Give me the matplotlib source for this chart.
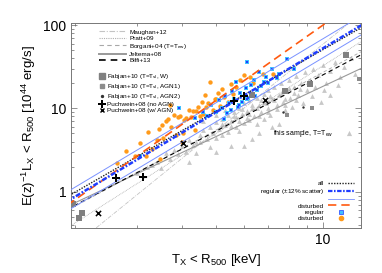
import numpy as np
import matplotlib
matplotlib.use("Agg")
import matplotlib.pyplot as plt
from matplotlib.lines import Line2D

plt.rcParams['font.family'] = ['Liberation Sans', 'DejaVu Sans']
plt.rcParams['mathtext.fontset'] = 'custom'
plt.rcParams['mathtext.rm'] = 'Liberation Sans'
plt.rcParams['mathtext.it'] = 'Liberation Sans'
plt.rcParams['mathtext.default'] = 'regular'

# ---- fit relations: L = norm * (T/5)^slope
fit_all = (9.3, 2.45)
fit_regular = (9.0, 2.55)
scatter_fac = 1.3
fit_disturbed = (12.5, 3.0)
fit_biffi = (5.35, 2.24)
fit_jeltema = (4.6, 2.0)
fit_maughan = (5.4, 3.45)
fit_pratt = (5.0, 2.7)
fit_borgani = (5.5, 2.3)

# ---- simulated clusters
dist_T = [2.63, 2.78, 3.05, 3.22, 3.30, 3.45, 3.51, 3.62, 3.66, 3.70, 3.72, 3.81, 3.90,
          3.95, 4.03, 4.05, 4.12, 4.20, 4.26, 4.30, 4.40, 4.45, 4.49, 4.55, 4.59, 4.65,
          4.69, 4.75, 4.80, 4.90, 4.95, 5.01, 5.05, 5.12, 5.20, 5.25, 5.40, 5.50, 5.57,
          5.70, 5.82, 6.01, 6.21, 6.35, 6.78, 7.23, 3.40, 3.85, 4.35, 2.95, 3.55, 4.00,
          3.47, 3.18]
dist_L = [2.2, 3.1, 3.8, 5.2, 3.3, 5.6, 6.3, 7.0, 7.5, 11.0, 6.0, 8.3, 7.8,
          8.1, 5.0, 7.2, 7.6, 9.5, 7.9, 9.2, 9.3, 10.5, 8.0, 12.0, 8.6, 14.5,
          10.3, 11.5, 21.0, 9.7, 13.0, 12.8, 15.5, 10.8, 17.0, 13.8, 12.0, 19.5, 15.0,
          18.0, 22.0, 25.0, 24.0, 20.0, 26.0, 26.0, 4.2, 4.8, 5.5, 2.7, 4.4, 4.0,
          2.46, 2.7]

reg_T = [3.05, 3.94, 4.35, 4.70, 4.85, 5.00, 5.10, 5.20, 5.30, 5.35, 5.45, 5.55, 5.60,
         5.70, 5.75, 5.85, 5.90, 6.10, 6.05, 6.15, 6.25, 6.30, 6.40, 6.50, 6.60, 6.70,
         6.80, 6.90, 7.00, 7.20, 7.40, 7.50, 7.90, 8.30, 5.50, 5.80, 6.10, 6.45, 4.60, 5.25]
reg_L = [2.7, 10.2, 7.6, 8.2, 11.0, 9.0, 12.5, 10.0, 14.0, 8.8, 11.5, 16.0, 13.0,
         21.0, 10.5, 15.5, 12.0, 36.0, 17.5, 13.5, 19.0, 15.0, 22.0, 16.5, 27.0, 18.5,
         21.0, 24.0, 20.0, 30.0, 23.0, 26.0, 38.7, 30.0, 9.5, 11.0, 12.8, 14.0, 9.0, 7.5]

sample_T = [3.0, 3.2, 3.4, 3.6, 3.7, 3.8, 3.9, 4.0, 4.1, 4.2, 4.3, 4.4, 4.5, 4.5, 4.6, 4.7,
            4.8, 4.8, 4.9, 5.0, 5.0, 5.1, 5.2, 5.2, 5.3, 5.4, 5.4, 5.5, 5.5, 5.6, 5.7, 5.7,
            5.8, 5.8, 5.9, 6.0, 6.0, 6.1, 6.2, 6.2, 6.3, 6.3, 6.4, 6.5, 6.5, 6.6, 6.7, 6.8,
            6.8, 6.9, 7.0, 7.0, 7.1, 7.2, 7.3, 7.4, 7.5, 7.5, 7.6, 7.7, 7.8, 7.9, 8.0, 8.1,
            8.2, 8.3, 8.4, 8.5, 8.7, 8.8, 8.9, 9.0, 9.2, 9.4, 9.5, 9.7, 10.0, 10.2, 10.5,
            10.8, 11.2, 11.5, 12.0, 6.0, 5.0, 4.2, 3.5, 6.6, 7.2, 9.9, 10.5, 5.3, 5.9, 6.4,
            4.6, 5.0,
            5.6, 5.9, 6.1, 6.3, 6.5, 6.7, 6.9, 7.1, 7.3, 7.6, 7.8, 8.0, 8.3, 8.6, 9.1,
            5.2, 5.5, 5.8, 6.2, 6.6, 7.0, 7.4, 7.8, 8.4, 9.3, 10.1, 11.0, 12.3, 4.4, 3.3]
sample_L = [1.7, 2.0, 2.3, 2.9, 2.5, 3.2, 2.8, 3.5, 3.0, 4.2, 3.6, 2.9, 4.8, 3.9, 5.5, 4.3,
            3.4, 6.0, 5.0, 4.4, 6.8, 5.6, 7.5, 4.8, 6.3, 8.3, 5.2, 7.0, 3.5, 9.0, 6.0, 7.8,
            10.0, 5.3, 8.5, 6.6, 11.5, 9.3, 7.2, 12.5, 4.3, 10.2, 8.0, 13.5, 6.5, 11.0, 9.0, 14.8,
            7.5, 12.0, 10.0, 16.5, 8.3, 13.0, 18.0, 11.0, 6.5, 14.5, 20.0, 12.0, 9.5, 16.0, 22.0, 13.5,
            10.5, 18.0, 24.5, 14.5, 20.0, 11.5, 27.0, 16.5, 22.0, 30.0, 18.0, 25.0, 33.0, 20.0, 28.0,
            36.0, 24.0, 31.0, 40.0, 3.5, 3.0, 2.3, 1.9, 5.0, 6.0, 12.0, 14.5, 9.5, 12.5, 14.5,
            7.0, 8.3,
            8.0, 9.8, 7.6, 11.0, 10.0, 12.5, 11.5, 14.0, 12.5, 15.0, 13.0, 17.5, 15.5, 17.0, 20.5,
            6.5, 6.2, 7.0, 8.6, 8.2, 9.0, 9.8, 11.0, 12.5, 14.0, 16.5, 19.0, 26.0, 4.0, 2.1]

# ---- literature simulations
fabW_T = [1.98, 2.05, 2.10, 6.3, 7.8, 9.2, 11.6]
fabW_L = [0.71, 0.48, 0.56, 14.5, 16.1, 19.4, 43.6]
fabA1_T = [7.9, 9.3, 12.6]
fabA1_L = [8.3, 10.2, 22.6]
fabA2_T = [7.7, 8.8]
fabA2_L = [9.1, 10.5]
puNo_T = [2.61, 3.12, 5.6, 6.0]
puNo_L = [1.45, 1.51, 12.3, 14.2]
puAGN_T = [2.32, 4.03, 6.85]
puAGN_L = [0.56, 3.8, 12.6]

T_range = np.array([1.9, 13.0])


def powerlaw(p):
    return p[0] * (T_range / 5.0) ** p[1]


fig = plt.figure(figsize=(3.82, 2.73), dpi=100)
ax = fig.add_axes([0.186, 0.166, 0.759, 0.751])
ax.set_xscale('log')
ax.set_yscale('log')

c_or = '#ff9a1a'
c_ord = '#ff5a10'
c_blue = '#1f3dff'
c_thin = '#7a92ff'
c_cyan = '#40c0ff'

ax.scatter(sample_T, sample_L, marker='^', s=12, color='#c8c8c8', lw=0, zorder=1)

# literature lines
ax.plot(T_range, powerlaw(fit_maughan), color='#c4c4c4', lw=0.6, ls=(0, (5, 1.5, 1, 1.5)), zorder=2)
ax.plot(T_range, powerlaw(fit_pratt), color='#b0b0b0', lw=0.6, ls=(0, (1, 1)), zorder=2)
ax.plot(T_range, powerlaw(fit_borgani), color='#a8a8a8', lw=0.6, ls=(0, (4, 3)), zorder=2)
ax.plot(T_range, powerlaw(fit_jeltema), color='#999999', lw=0.8, zorder=2)
ax.plot(T_range, powerlaw(fit_biffi), color='black', lw=0.8, ls=(0, (4, 3)), zorder=2)

ax.scatter(dist_T, dist_L, s=10, color=c_or, lw=0, zorder=3)
ax.scatter(reg_T, reg_L, marker='s', s=10, color=c_cyan, lw=0, zorder=3)
ax.scatter(reg_T, reg_L, marker='s', s=2, color=c_blue, lw=0, zorder=3)

ax.scatter(fabW_T, fabW_L, marker='s', s=18, color='#808080', lw=0, zorder=3)
ax.scatter(fabA1_T, fabA1_L, marker='s', s=7, color='#8c8c8c', lw=0, zorder=3)
ax.scatter(fabA2_T, fabA2_L, marker='o', s=3, color='#333333', lw=0, zorder=3)
ax.scatter(puNo_T, puNo_L, marker='P', s=34, color='black', lw=0, zorder=5)
ax.scatter(puAGN_T, puAGN_L, marker='x', s=14, color='black', lw=1.1, zorder=5)

# fits to this sample
ax.plot(T_range, powerlaw(fit_regular) * scatter_fac, color=c_thin, lw=0.7, zorder=4)
ax.plot(T_range, powerlaw(fit_regular) / scatter_fac, color=c_thin, lw=0.7, zorder=4)
ax.plot(T_range, powerlaw(fit_all), color='#222222', lw=1.0, ls=(0, (1, 1)), zorder=4)
ax.plot(T_range, powerlaw(fit_disturbed), color=c_ord, lw=1.2, ls=(0, (5, 3)), zorder=4)
ax.plot(T_range, powerlaw(fit_regular), color=c_blue, lw=1.8, ls=(0, (2, 0.7, 0.7, 0.7)), zorder=4)

ax.set_xlim(1.95, 12.8)
ax.set_ylim(0.37, 107)
ax.set_xticks([10])
ax.set_xticklabels(['10'])
ax.set_yticks([1, 10, 100])
ax.set_yticklabels(['1', '10', '100'])
ax.tick_params(which='both', direction='in', top=True, right=True, color='#666666', labelsize=10)
ax.tick_params(which='major', length=4, width=0.5)
ax.tick_params(which='minor', length=2, width=0.5)
ax.tick_params(axis='x', which='minor', labelbottom=False)
for s in ax.spines.values():
    s.set_color('#777777')
    s.set_linewidth(0.7)

ax.set_xlabel(r'T$_X$ < R$_{500}$ [keV]', fontsize=9.5, labelpad=4)
ax.set_ylabel(r'E(z)$^{-1}$L$_X$ < R$_{500}$ [10$^{44}$ erg/s]', fontsize=9.5, labelpad=4)

fs = 4.6
h1 = [Line2D([], [], color='#c4c4c4', lw=0.8, ls=(0, (5, 1.5, 1, 1.5))),
      Line2D([], [], color='#b0b0b0', lw=0.8, ls=(0, (1, 1))),
      Line2D([], [], color='#a8a8a8', lw=0.8, ls=(0, (4, 3))),
      Line2D([], [], color='#999999', lw=1.4),
      Line2D([], [], color='black', lw=1.2, ls=(0, (4, 3)))]
l1 = ['Maughan+12', 'Pratt+09', r'Borgani+04 (T=T$_{ew}$)', 'Jeltema+08', 'Biffi+13']
leg1 = ax.legend(h1, l1, loc='upper left', bbox_to_anchor=(0.08, 0.99), fontsize=fs,
                 frameon=False, handlelength=4.2, labelspacing=0.12, handletextpad=0.6,
                 borderpad=0.2)
ax.add_artist(leg1)

h2 = [Line2D([], [], marker='s', ls='', color='#808080', ms=4),
      Line2D([], [], marker='s', ls='', color='#8c8c8c', ms=2.6),
      Line2D([], [], marker='o', ls='', color='#333333', ms=1.4),
      Line2D([], [], marker='P', ls='', color='black', ms=5.5, mew=0),
      Line2D([], [], marker='x', ls='', color='black', ms=3.5, mew=1.0)]
l2 = [r'Fabjan+10 (T=T$_{sl}$, W)', r'Fabjan+10 (T=T$_{sl}$, AGN1)',
      r'Fabjan+10 (T=T$_{sl}$, AGN2)', 'Puchwein+08 (no AGN)', 'Puchwein+08 (w/ AGN)']
leg2 = ax.legend(h2, l2, loc='upper left', bbox_to_anchor=(0.085, 0.78), fontsize=fs,
                 frameon=False, handlelength=0.6, labelspacing=0.12, handletextpad=0.4,
                 borderpad=0.2)
ax.add_artist(leg2)

h3 = [Line2D([], [], color='#222222', lw=1.0, ls=(0, (1, 1))),
      Line2D([], [], color=c_blue, lw=1.6, ls=(0, (2, 0.7, 0.7, 0.7))),
      Line2D([], [], color=c_thin, lw=0.6),
      Line2D([], [], color=c_ord, lw=1.2, ls=(0, (5, 3))),
      Line2D([], [], marker='s', ls='', color=c_cyan, ms=3.2, markeredgecolor=c_blue, mew=0.5),
      Line2D([], [], marker='o', ls='', color=c_or, ms=3)]
l3 = ['all', r'regular ($\pm$12% scatter)', ' ', 'disturbed', 'regular', 'disturbed']
leg3 = ax.legend(h3, l3, loc='lower right', bbox_to_anchor=(0.99, 0.01), fontsize=fs,
                 frameon=False, handlelength=4.0, labelspacing=0.12, handletextpad=0.6,
                 markerfirst=False, borderpad=0.2)

ax.text(0.905, 0.46, r'this sample, T=T$_{ew}$', transform=ax.transAxes, fontsize=fs + 0.4,
        ha='right', va='center')
ax.scatter([0.96], [0.46], marker='^', s=14, color='#c8c8c8', lw=0, transform=ax.transAxes,
           zorder=6)

fig.savefig('out.png', dpi=100)
